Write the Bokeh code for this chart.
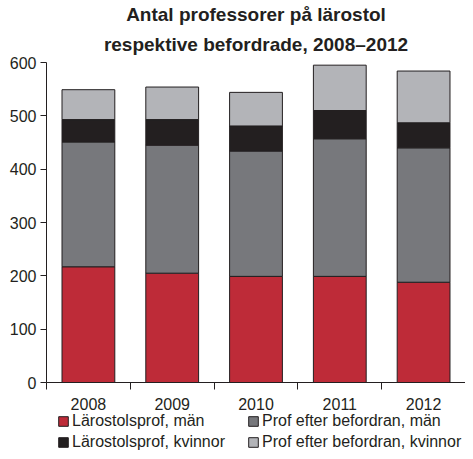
from bokeh.plotting import figure
from bokeh.layouts import column
from bokeh.models import (ColumnDataSource, Range1d, FixedTicker, Legend, LegendItem, Title)
from bokeh.embed import file_html
from bokeh.resources import INLINE

years = ["2008", "2009", "2010", "2011", "2012"]
larostol_man = [217, 205, 199, 199, 188]
befordran_man = [234, 240, 235, 258, 252]
larostol_kvinnor = [42, 48, 47, 53, 47]
befordran_kvinnor = [56, 61, 63, 85, 97]
y_ticks = [0, 100, 200, 300, 400, 500, 600]
title_lines = ["Antal professorer på lärostol", "respektive befordrade, 2008–2012"]

series = ["larostol_man", "befordran_man", "larostol_kvinnor", "befordran_kvinnor"]
labels = ["Lärostolsprof, män", "Prof efter befordran, män",
          "Lärostolsprof, kvinnor", "Prof efter befordran, kvinnor"]
colors = ["#be2b38", "#77787c", "#231f20", "#b3b4b8"]

xpos = [i + 0.5 for i in range(len(years))]
src = ColumnDataSource(dict(x=xpos, larostol_man=larostol_man, befordran_man=befordran_man,
                            larostol_kvinnor=larostol_kvinnor, befordran_kvinnor=befordran_kvinnor))

FONT = "Liberation Sans"
INK = "#231f20"

p = figure(width=465, height=412, output_backend="svg", toolbar_location=None,
           x_range=Range1d(0, len(years)), y_range=Range1d(0, 600),
           min_border_left=46, min_border_right=0, min_border_top=62, min_border_bottom=26)

p.title.text = title_lines[0]
t2 = Title(text=title_lines[1])
for t in (p.title, t2):
    t.align = "center"
    t.offset = 5
    t.text_font = FONT
    t.text_font_size = "19px"
    t.text_font_style = "bold"
    t.text_color = INK
    t.text_line_height = 0.8
    t.standoff = 0
t2.text_line_height = 0.45
t2.standoff = 15
p.add_layout(t2, "above")

renderers = p.vbar_stack(series, x="x", width=0.63, source=src, fill_color=colors,
                         line_color=INK, line_width=1)

p.grid.visible = False
p.outline_line_color = None

xa = p.xaxis[0]
xa.ticker = FixedTicker(ticks=xpos, minor_ticks=list(range(len(years) + 1)))
xa.major_label_overrides = {x: y for x, y in zip(xpos, years)}
xa.major_tick_out = 0
xa.major_tick_in = 0
xa.minor_tick_out = 7
xa.minor_tick_in = 0
xa.minor_tick_line_color = INK
xa.axis_line_color = INK
xa.major_label_standoff = 8
xa.major_label_text_font = FONT
xa.major_label_text_font_size = "16px"
xa.major_label_text_color = INK

ya = p.yaxis[0]
ya.ticker = FixedTicker(ticks=y_ticks, minor_ticks=[])
ya.major_tick_out = 6
ya.major_tick_in = 0
ya.major_tick_line_color = INK
ya.axis_line_color = INK
ya.major_label_standoff = 4
ya.major_label_text_font = FONT
ya.major_label_text_font_size = "16px"
ya.major_label_text_color = INK

# legend strip below the chart: its own small figure with hidden swatch renderers
p2 = figure(width=465, height=39, output_backend="svg", toolbar_location=None,
            x_axis_location=None, y_axis_location=None, min_border=0,
            x_range=Range1d(0, len(years)), y_range=Range1d(0, 600))
p2.grid.visible = False
p2.outline_line_color = None
swatches = p2.vbar_stack(series, x="x", width=0.63, source=src, fill_color=colors,
                         line_color=INK, line_width=1)
for r in swatches:
    r.visible = False

lg = Legend(items=[LegendItem(label=l, renderers=[r]) for l, r in zip(labels, swatches)],
            location=(11, 0), orientation="horizontal", ncols=2, margin=0, padding=0,
            spacing=3, glyph_width=12, glyph_height=12, label_height=18, label_width=172,
            label_standoff=3, border_line_color=None, background_fill_alpha=0,
            inactive_fill_alpha=0,
            label_text_font=FONT, label_text_font_size="16px", label_text_color=INK)
p2.add_layout(lg, "center")

open("out.html", "w").write(file_html(column(p, p2, spacing=0), INLINE))
